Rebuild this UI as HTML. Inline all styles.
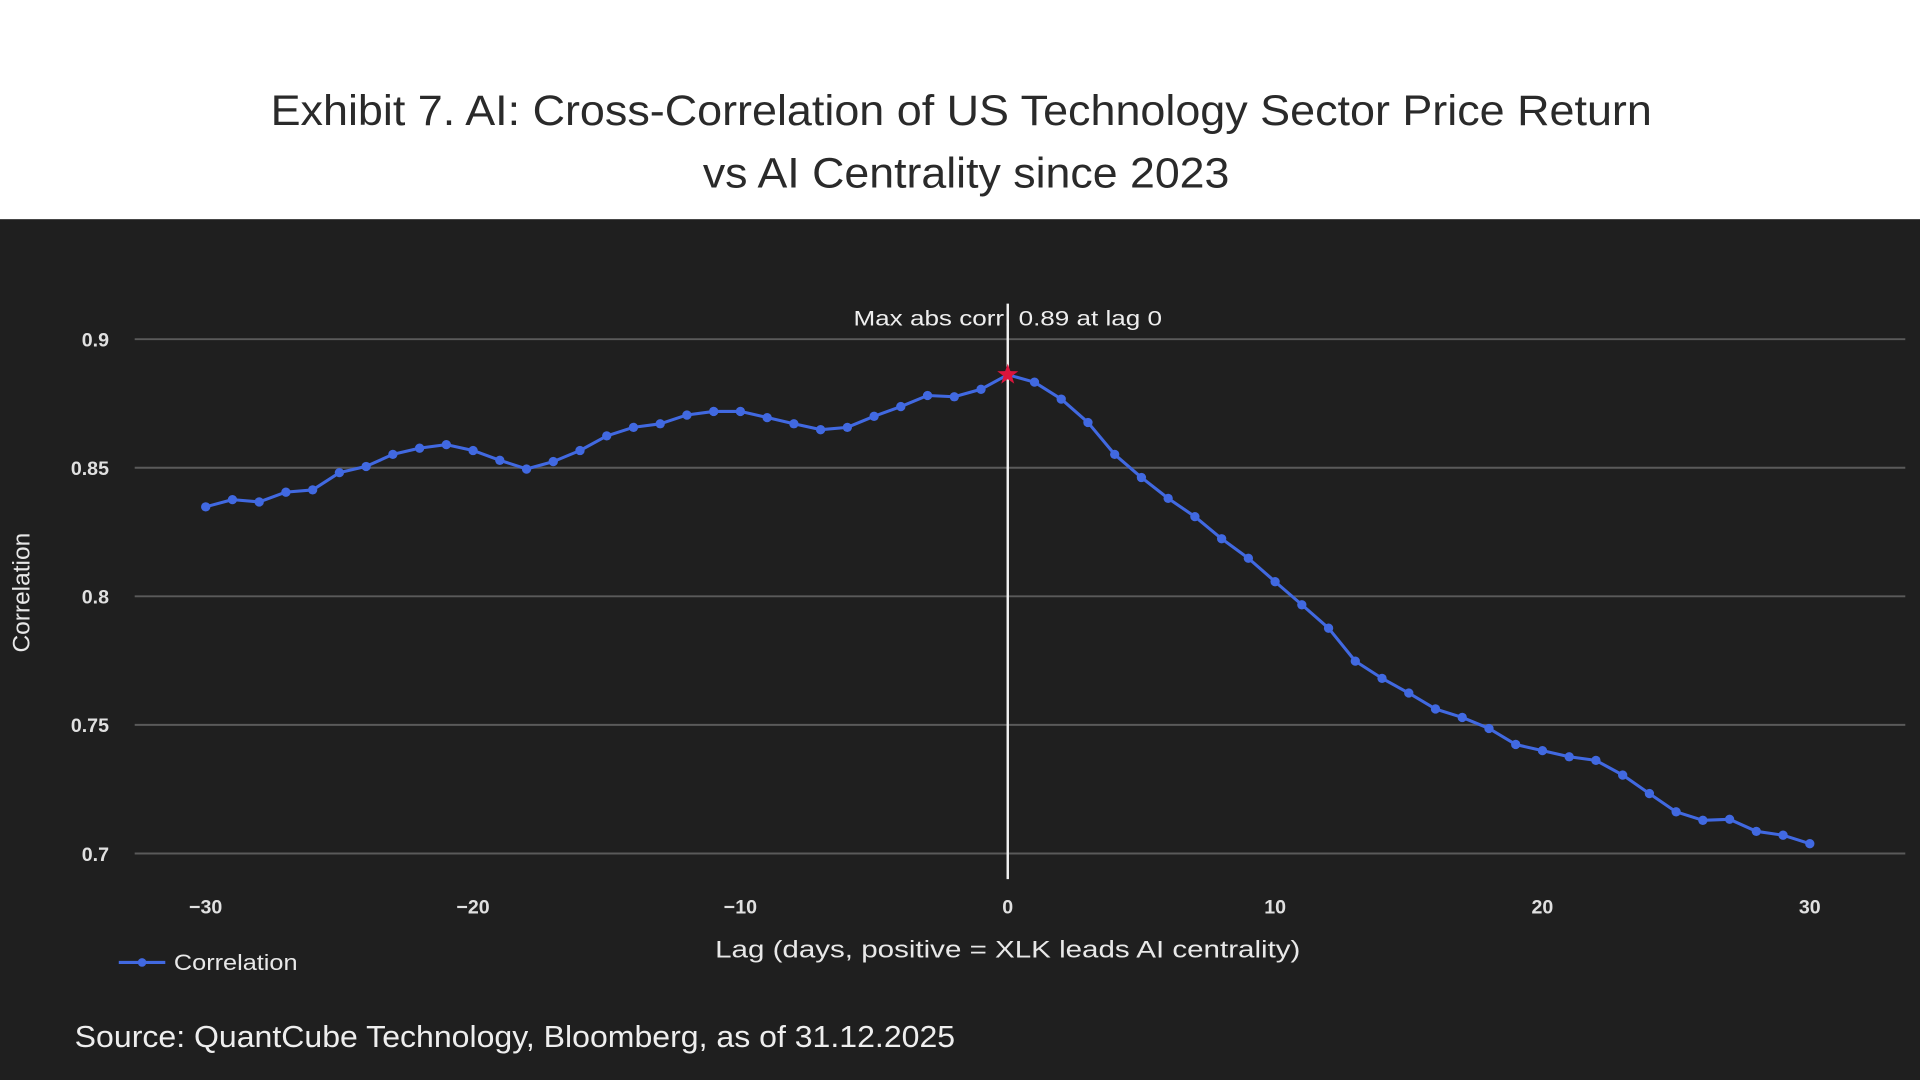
<!DOCTYPE html>
<html><head><meta charset="utf-8"><style>
html,body{margin:0;padding:0;background:#fff;width:1920px;height:1080px;overflow:hidden}
svg{display:block}
</style></head><body>
<svg id="chart" width="1920" height="1080" viewBox="0 0 1568 882" font-family="'Liberation Sans', sans-serif">
<rect x="0" y="0" width="1568" height="179" fill="#ffffff"/>
<text x="221" y="102" textLength="1128" lengthAdjust="spacingAndGlyphs" font-size="35" fill="#2a2a2a">Exhibit 7. AI: Cross-Correlation of US Technology Sector Price Return</text>
<text x="574" y="153" textLength="430" lengthAdjust="spacingAndGlyphs" font-size="35" fill="#2a2a2a">vs AI Centrality since 2023</text>
<rect x="0" y="179" width="1568" height="703" fill="#1f1f1f"/>
<g id="grid"></g>
<g id="yticks"></g>
<g id="xticks"></g>
<line x1="823" y1="248" x2="823" y2="718" stroke="#f0f0f0" stroke-width="2"/>
<text x="697" y="266" textLength="252" lengthAdjust="spacingAndGlyphs" font-size="17" fill="#eeeeee">Max abs corr: 0.89 at lag 0</text>
<g id="series"></g>
<text transform="translate(24,484) rotate(-90)" text-anchor="middle" font-size="20" fill="#e8e8e8">Correlation</text>
<text x="584" y="782" textLength="478" lengthAdjust="spacingAndGlyphs" font-size="20" fill="#e8e8e8">Lag (days, positive = XLK leads AI centrality)</text>
<g>
<line x1="97" y1="786" x2="135" y2="786" stroke="#4169e1" stroke-width="2.5"/>
<circle cx="116" cy="786" r="3.5" fill="#4169e1"/>
<text x="142" y="792" textLength="101" lengthAdjust="spacingAndGlyphs" font-size="18" fill="#e8e8e8">Correlation</text>
</g>
<text x="61" y="855" textLength="719" lengthAdjust="spacingAndGlyphs" font-size="25" fill="#eeeeee">Source: QuantCube Technology, Bloomberg, as of 31.12.2025</text>
</svg>
<script>
const lags = [-30,-29,-28,-27,-26,-25,-24,-23,-22,-21,-20,-19,-18,-17,-16,-15,-14,-13,-12,-11,-10,-9,-8,-7,-6,-5,-4,-3,-2,-1,0,1,2,3,4,5,6,7,8,9,10,11,12,13,14,15,16,17,18,19,20,21,22,23,24,25,26,27,28,29,30];
const corr = [0.8348,0.8376,0.8367,0.8405,0.8414,0.8481,0.8505,0.8552,0.8576,0.859,0.8567,0.8529,0.8495,0.8524,0.8567,0.8624,0.8657,0.8671,0.8705,0.8719,0.8719,0.8695,0.8671,0.8648,0.8657,0.87,0.8738,0.8781,0.8776,0.8805,0.8862,0.8833,0.8767,0.8676,0.8552,0.8462,0.8381,0.831,0.8224,0.8148,0.8057,0.7967,0.7876,0.7748,0.7681,0.7624,0.7562,0.7529,0.7486,0.7424,0.74,0.7376,0.7362,0.7305,0.7233,0.7162,0.7129,0.7133,0.7086,0.7071,0.7038];
const yTicks = [0.7,0.75,0.8,0.85,0.9];
const yTickLabels = ["0.7","0.75","0.8","0.85","0.9"];
const xTicks = [-30,-20,-10,0,10,20,30];
const xTickLabels = ["\u221230","\u221220","\u221210","0","10","20","30"];
const peakLag = 0;

const NS="http://www.w3.org/2000/svg";
function xs(v){return 168+(v+30)*(1478-168)/60;}
function ys(v){return 697-(v-0.7)*(697-277)/0.2;}
function mk(tag,attrs,parent){const e=document.createElementNS(NS,tag);for(const k in attrs)e.setAttribute(k,attrs[k]);parent.appendChild(e);return e;}
const grid=document.getElementById('grid'),yt=document.getElementById('yticks'),xt=document.getElementById('xticks'),ser=document.getElementById('series');
yTicks.forEach((t,i)=>{
  const l=mk('line',{x1:110,x2:1556,y1:ys(t),y2:ys(t),stroke:'#5a5a5a','stroke-width':1.6},grid);
  
  
  const tx=mk('text',{x:89,y:ys(t)+6,'text-anchor':'end','font-size':16,'font-weight':'bold',fill:'#e0e0e0'},yt);
  tx.textContent=yTickLabels[i];
  
  
});
xTicks.forEach((t,i)=>{
  const tx=mk('text',{x:xs(t),y:746,'text-anchor':'middle','font-size':16,'font-weight':'bold',fill:'#e0e0e0'},xt);
  tx.textContent=xTickLabels[i];
  
  
});
const pts=lags.map((l,i)=>xs(l).toFixed(1)+','+ys(corr[i]).toFixed(1)).join(' ');
const pl=mk('polyline',{points:pts,fill:'none',stroke:'#4169e1','stroke-width':2.5,'stroke-linejoin':'round'},ser);


lags.forEach((l,i)=>{
  const c=mk('circle',{cx:xs(l),cy:ys(corr[i]),r:3.8,fill:'#4169e1'},ser);
  
  
});
const pi=lags.indexOf(peakLag);
const cx=xs(peakLag),cy=ys(corr[pi]);let sp=[];
for(let k=0;k<10;k++){const r=k%2?3.6:9;const a=-Math.PI/2+k*Math.PI/5;sp.push((cx+r*Math.cos(a)).toFixed(1)+','+(cy+r*Math.sin(a)).toFixed(1));}
const st=mk('polygon',{points:sp.join(' '),fill:'#dc143c'},ser);


</script>
</body></html>
